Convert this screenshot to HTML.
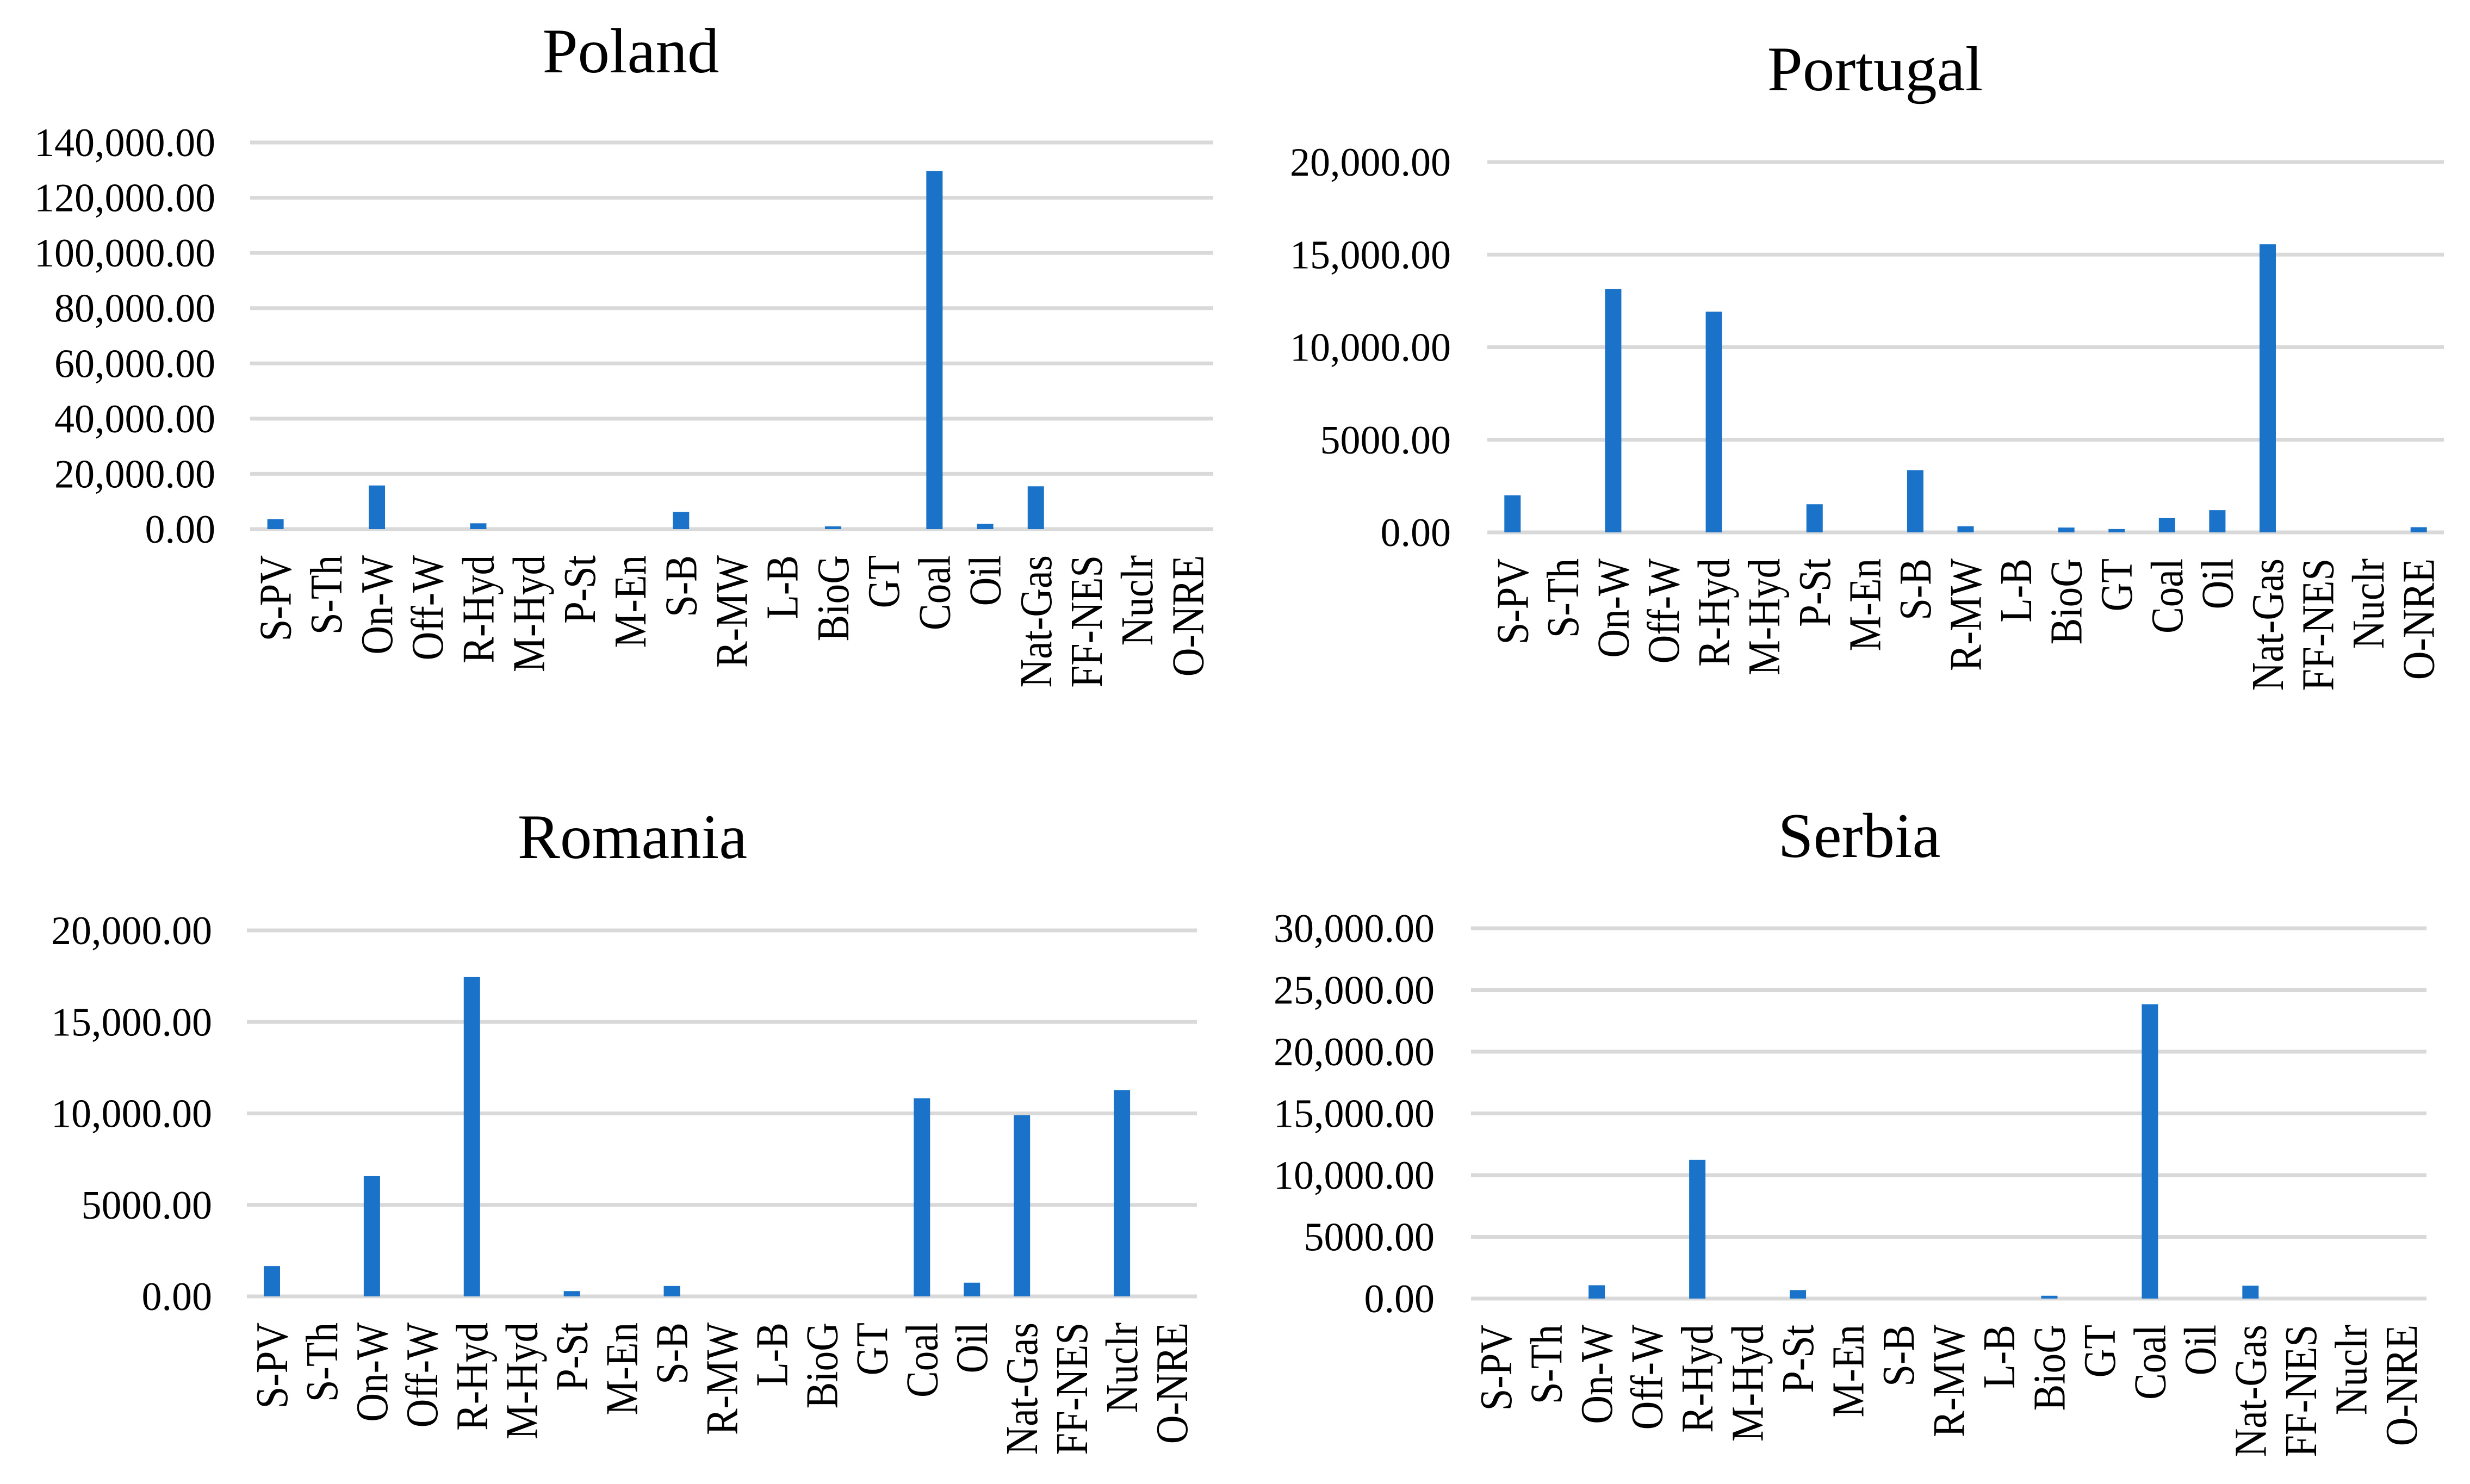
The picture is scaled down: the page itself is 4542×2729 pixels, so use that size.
<!DOCTYPE html>
<html><head><meta charset="utf-8"><style>
html,body{margin:0;padding:0;background:#fff;}
svg{display:block;font-family:"Liberation Serif","Times New Roman",serif;}
</style></head><body>
<svg id="root" width="4542" height="2729" viewBox="0 0 4542 2729"></svg>
<script>
const categories = ["S-PV","S-Th","On-W","Off-W","R-Hyd","M-Hyd","P-St","M-En","S-B","R-MW","L-B","BioG","GT","Coal","Oil","Nat-Gas","FF-NES","Nuclr","O-NRE"];
const polandValues = [3600,0,15800,0,2100,0,0,0,6200,0,0,1000,0,129700,1900,15500,0,0,0];
const portugalValues = [2000,0,13150,0,11920,0,1520,0,3360,330,0,260,180,770,1200,15560,0,0,280];
const romaniaValues = [1660,0,6570,0,17450,0,290,0,570,0,0,0,0,10830,750,9900,0,11270,0];
const serbiaValues = [0,0,1080,0,11240,0,690,0,0,0,0,230,0,23840,0,1040,0,0,0];
const polandTicks = [0,20000,40000,60000,80000,100000,120000,140000];
const polandTickLabels = ["0.00","20,000.00","40,000.00","60,000.00","80,000.00","100,000.00","120,000.00","140,000.00"];
const portugalTicks = [0,5000,10000,15000,20000];
const portugalTickLabels = ["0.00","5000.00","10,000.00","15,000.00","20,000.00"];
const romaniaTicks = [0,5000,10000,15000,20000];
const romaniaTickLabels = ["0.00","5000.00","10,000.00","15,000.00","20,000.00"];
const serbiaTicks = [0,5000,10000,15000,20000,25000,30000];
const serbiaTickLabels = ["0.00","5000.00","10,000.00","15,000.00","20,000.00","25,000.00","30,000.00"];

const NS="http://www.w3.org/2000/svg";
const root=document.getElementById('root');
function mk(tag,attrs,parent){const e=document.createElementNS(NS,tag);for(const k in attrs)e.setAttribute(k,attrs[k]);parent.appendChild(e);return e;}

function drawChart(cfg){
  const g=mk('g',{},root);
  
  
  const max=cfg.ticks[cfg.ticks.length-1];
  const y=v=>cfg.y0-(v/max)*(cfg.y0-cfg.yTop);
  const band=(cfg.x1-cfg.x0)/categories.length;
  const xc=i=>cfg.x0+band*(i+0.5);
  const t=mk('text',{x:cfg.titleX,y:cfg.titleY,'font-size':117,'text-anchor':'middle',fill:'#000'},g);
  t.textContent=cfg.title;
  
  
  cfg.ticks.forEach((v,i)=>{
    const l=mk('line',{x1:cfg.x0,x2:cfg.x1,y1:y(v),y2:y(v),stroke:'#d9d9d9','stroke-width':7},g);
    
    
    const tx=mk('text',{x:cfg.labelRight,y:y(v)+25,'font-size':74,'text-anchor':'end',fill:'#000'},g);
    tx.textContent=cfg.tickLabels[i];
    
    
  });
  cfg.values.forEach((v,i)=>{
    if(v<=0)return;
    const bw=30;
    const r=mk('rect',{x:xc(i)-bw/2,y:y(v),width:bw,height:cfg.y0-y(v),fill:'#1a73c8'},g);
    
    
  });
  categories.forEach((c,i)=>{
    const tx=mk('text',{transform:`translate(${xc(i)+28},${cfg.y0+48}) rotate(-90) scale(0.87,1)`,'font-size':84,'text-anchor':'end',fill:'#000'},g);
    tx.textContent=c;
    
    
  });
}
drawChart({id:'poland',title:'Poland',values:polandValues,ticks:polandTicks,tickLabels:polandTickLabels,x0:460,x1:2231,yTop:262,y0:973,labelRight:396,titleX:1160,titleY:133});
drawChart({id:'portugal',title:'Portugal',values:portugalValues,ticks:portugalTicks,tickLabels:portugalTickLabels,x0:2735,x1:4494,yTop:298,y0:979,labelRight:2668,titleX:3448,titleY:166});
drawChart({id:'romania',title:'Romania',values:romaniaValues,ticks:romaniaTicks,tickLabels:romaniaTickLabels,x0:454,x1:2201,yTop:1711,y0:2384,labelRight:390,titleX:1163,titleY:1578});
drawChart({id:'serbia',title:'Serbia',values:serbiaValues,ticks:serbiaTicks,tickLabels:serbiaTickLabels,x0:2705,x1:4462,yTop:1707,y0:2388,labelRight:2638,titleX:3419,titleY:1576});
</script>
</body></html>
